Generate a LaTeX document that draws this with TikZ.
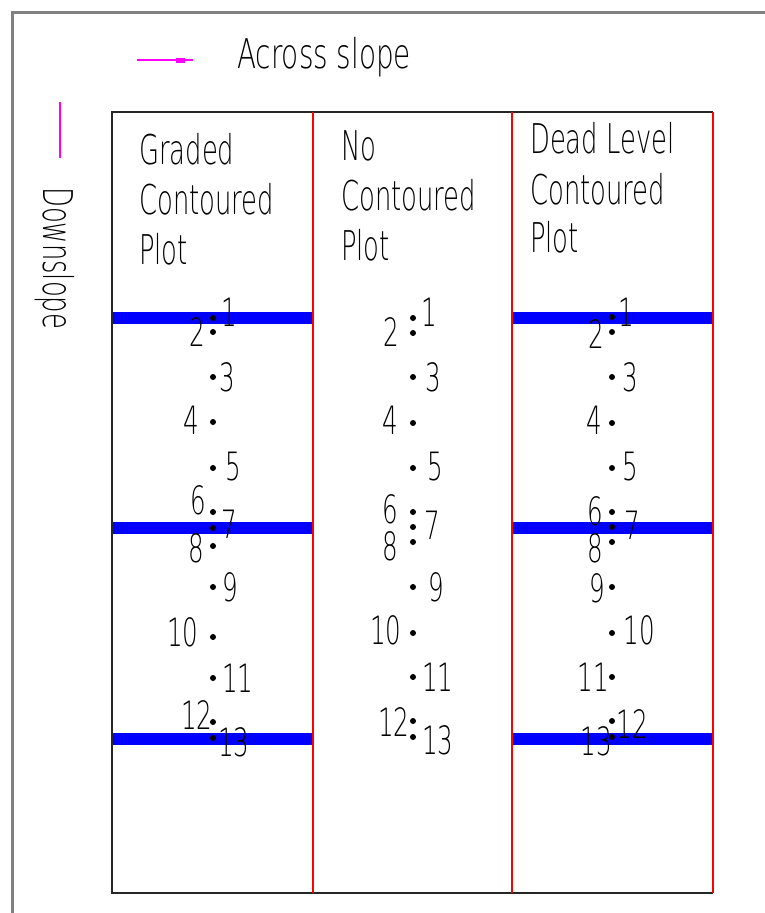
\documentclass[tikz,border=0pt]{standalone}
\usepackage{fontspec}
\newfontfamily\cadfont[FakeStretch=0.63]{DejaVu Sans ExtraLight}
\newfontfamily\cadwidefont[FakeStretch=0.68]{DejaVu Sans ExtraLight}
\definecolor{legendmag}{RGB}{255,0,255}
\definecolor{bandblue}{RGB}{0,0,255}
\definecolor{colred}{RGB}{255,0,0}
\begin{document}
\begin{tikzpicture}[x=1pt,y=-1pt,
  cadtext/.style={font=\cadfont\fontsize{41}{41}\selectfont, inner sep=0pt, text=black},
  numtext/.style={font=\cadfont\fontsize{39}{39}\selectfont, inner sep=0pt, text=black},
  frameline/.style={draw=black!50, line width=3pt},
  tableline/.style={draw=black!85, line width=2pt},
  colline/.style={draw=colred, line width=1.8pt},
  band/.style={draw=bandblue, line width=12pt},
  legendline/.style={draw=legendmag, line width=2.5pt},
  pt/.style={circle, fill=black, inner sep=0pt, minimum size=6pt}]
\useasboundingbox (0,0) rectangle (765,913);

% outer sheet frame
\coordinate (fTL) at (12,12);
\coordinate (fTR) at (765,12);
\coordinate (fBL) at (12,913);
\draw[frameline] (fBL) -- (fTL) -- (fTR);

% legend
\coordinate (aS) at (137,60);
\coordinate (aE) at (193,60);
\draw[legendline] (aS) -- (aE);
\fill[legendmag] (176,58) rectangle (185,62.5);
\node[cadtext, font=\cadwidefont\fontsize{41}{41}\selectfont, anchor=base west] (across) at (237,68) {Across slope};
\coordinate (dS) at (60,102);
\coordinate (dE) at (60,158);
\draw[legendline] (dS) -- (dE);
\node[cadtext, rotate=-90, anchor=base west] (down) at (43,187) {Downslope};

% contour bands (graded and dead level plots)
\foreach \y in {317.5,528,738.5}{
  \draw[band] (112,\y) -- (313,\y);
  \draw[band] (512,\y) -- (713,\y);
}

% plot table
\coordinate (tTL) at (112,112);
\coordinate (tTR) at (713,112);
\coordinate (tBL) at (112,893);
\coordinate (tBR) at (713,893);
\draw[tableline] (tBR) -- (tBL) -- (tTL) -- (tTR);
\draw[colline] (313,112) -- (313,893);
\draw[colline] (512,112) -- (512,893);
\draw[colline] (tTR) -- (tBR);

% headings
\node[cadtext, anchor=base west] (h1a) at (139,164) {Graded};
\node[cadtext, anchor=base west] (h1b) at (139,214) {Contoured};
\node[cadtext, anchor=base west] (h1c) at (139,264) {Plot};
\node[cadtext, anchor=base west] (h2a) at (341,160) {No};
\node[cadtext, anchor=base west] (h2b) at (341,210) {Contoured};
\node[cadtext, anchor=base west] (h2c) at (341,260) {Plot};
\node[cadtext, anchor=base west] (h3a) at (530,153) {Dead Level};
\node[cadtext, anchor=base west] (h3b) at (530,204) {Contoured};
\node[cadtext, anchor=base west] (h3c) at (530,252) {Plot};

% sample points: number / point y / label x / label y
\foreach \n/\py/\lx/\ly in {1/318/229/312, 2/332/197/332, 3/377/227/377,
  4/422/191/420, 5/468/233/467, 6/512/198/500, 7/528/229/524, 8/546/196/548,
  9/587/230/587, 10/637/183/632, 11/678/238/678, 12/722/197/715, 13/738/234/742}{
  \node[pt] (a\n) at (213,\py) {};
  \node[numtext] (al\n) at (\lx,\ly) {\n};
}
\foreach \n/\py/\lx/\ly in {1/318/429/312, 2/333/391/332, 3/377/433/377,
  4/423/390/420, 5/468/435/467, 6/512/390/509, 7/527/432/525, 8/542/390/546,
  9/587/436/587, 10/633/386/630, 11/677/438/677, 12/721/394/722, 13/737/438/740}{
  \node[pt] (b\n) at (413,\py) {};
  \node[numtext] (bl\n) at (\lx,\ly) {\n};
}
\foreach \n/\py/\lx/\ly in {1/317/626/312, 2/332/596/334, 3/377/630/377,
  4/423/594/420, 5/468/630/467, 6/512/595/511, 7/527/632/525, 8/542/595/548,
  9/587/597/588, 10/633/639/630, 11/677/593/677, 12/721/632/724, 13/737/596/741}{
  \node[pt] (c\n) at (612,\py) {};
  \node[numtext] (cl\n) at (\lx,\ly) {\n};
}
\end{tikzpicture}
\end{document}
